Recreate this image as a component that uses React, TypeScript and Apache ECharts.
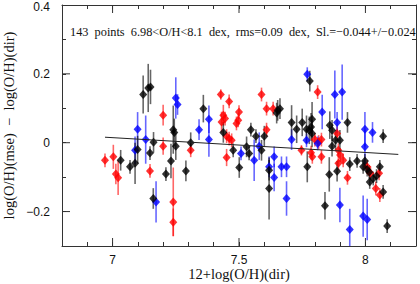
import React, { useEffect, useRef } from "react";
import * as echarts from "echarts";

// ---- Data ----
const redX = [6.97, 7.003, 7.013, 7.022, 7.2, 7.2, 7.148, 7.24, 7.24, 7.309, 7.428, 7.461, 7.438, 7.431, 7.445, 7.5, 7.497, 7.49, 7.451, 7.461, 7.471, 7.451, 7.589, 7.609, 7.635, 7.609, 7.811, 7.8, 7.826, 7.815, 7.747, 7.785, 7.79, 7.826, 7.888, 7.893, 7.9, 7.912, 7.893, 7.929, 8.007, 8.02, 8.054, 8.041, 8.057];
const redY = [-0.051, -0.041, -0.091, -0.102, 0.08, -0.01, -0.082, -0.172, -0.231, -0.022, 0.14, 0.12, 0.08, 0.06, 0.07, 0.089, 0.065, 0.056, 0.019, 0.012, 0.007, -0.043, 0.14, 0.099, 0.099, 0.038, 0.147, 0.009, 0.009, 0.002, -0.022, -0.029, -0.041, -0.041, 0.027, -0.022, -0.036, -0.051, -0.06, -0.102, -0.07, -0.089, -0.089, -0.133, -0.152];
const redErr = [0.02, 0.035, 0.03, 0.05, 0.03, 0.025, 0.02, 0.1, 0.04, 0.02, 0.015, 0.02, 0.03, 0.03, 0.02, 0.02, 0.02, 0.02, 0.02, 0.02, 0.02, 0.025, 0.02, 0.02, 0.02, 0.02, 0.02, 0.02, 0.02, 0.02, 0.015, 0.02, 0.02, 0.02, 0.02, 0.02, 0.02, 0.02, 0.02, 0.02, 0.02, 0.02, 0.02, 0.02, 0.02];

const blueX = [7.089, 7.099, 7.131, 7.172, 7.25, 7.257, 7.342, 7.381, 7.381, 7.508, 7.56, 7.58, 7.639, 7.619, 7.639, 7.668, 7.688, 7.688, 7.708, 7.767, 7.811, 7.77, 7.829, 7.879, 7.908, 7.888, 7.998, 8.028, 7.998, 7.899, 7.938, 7.991, 8.007];
const blueY = [-0.022, 0.039, 0.009, -0.172, 0.13, 0.111, 0.038, 0.068, 0.009, -0.031, -0.051, -0.01, -0.041, -0.07, -0.101, -0.07, -0.07, -0.162, 0.009, 0.007, -0.002, 0.199, 0.089, 0.14, 0.147, 0.059, 0.039, 0.03, -0.012, -0.181, -0.252, -0.213, -0.223];
const blueErr = [0.04, 0.05, 0.07, 0.06, 0.06, 0.03, 0.03, 0.04, 0.05, 0.02, 0.06, 0.04, 0.03, 0.03, 0.04, 0.03, 0.03, 0.05, 0.03, 0.02, 0.02, 0.02, 0.05, 0.07, 0.08, 0.03, 0.05, 0.03, 0.05, 0.05, 0.06, 0.06, 0.06];

const blackX = [7.032, 7.069, 7.089, 7.099, 7.121, 7.141, 7.15, 7.162, 7.148, 7.161, 7.24, 7.244, 7.25, 7.211, 7.231, 7.29, 7.309, 7.359, 7.438, 7.477, 7.501, 7.53, 7.54, 7.547, 7.567, 7.589, 7.6, 7.619, 7.619, 7.649, 7.653, 7.662, 7.708, 7.728, 7.75, 7.789, 7.767, 7.778, 7.785, 7.789, 7.78, 7.77, 7.859, 7.868, 7.882, 7.899, 7.868, 7.929, 7.857, 7.888, 7.938, 7.967, 7.998, 7.991, 8.007, 8.015, 8.017, 8.031, 8.044, 8.057, 8.07, 8.07, 7.84, 8.086];
const blackY = [-0.051, -0.07, -0.06, -0.02, 0.14, 0.159, 0.162, 0.001, -0.03, -0.162, 0.038, 0.03, -0.01, -0.091, -0.053, -0.082, 0.0, 0.099, 0.03, -0.022, -0.072, -0.012, -0.031, 0.038, 0.019, -0.022, 0.019, -0.08, -0.133, 0.086, 0.094, 0.099, 0.059, 0.039, 0.059, 0.068, 0.039, 0.036, 0.046, 0.027, 0.179, -0.07, 0.051, 0.036, 0.007, 0.007, -0.01, 0.059, -0.092, -0.083, -0.062, -0.053, -0.053, -0.07, -0.078, -0.085, -0.114, -0.104, -0.097, -0.07, -0.143, 0.019, -0.183, -0.242];
const blackErr = [0.03, 0.02, 0.06, 0.04, 0.055, 0.07, 0.05, 0.03, 0.02, 0.03, 0.07, 0.04, 0.04, 0.02, 0.05, 0.03, 0.03, 0.04, 0.03, 0.02, 0.03, 0.03, 0.02, 0.02, 0.02, 0.03, 0.03, 0.03, 0.09, 0.03, 0.03, 0.03, 0.05, 0.04, 0.04, 0.05, 0.04, 0.04, 0.04, 0.04, 0.03, 0.045, 0.04, 0.03, 0.03, 0.03, 0.03, 0.03, 0.05, 0.03, 0.02, 0.02, 0.02, 0.02, 0.02, 0.02, 0.02, 0.02, 0.02, 0.02, 0.02, 0.02, 0.04, 0.02];

const fitX = [6.97, 8.13];
const fitY = [0.016, -0.034];

const xMajorTicks = [7, 7.5, 8];
const yMajorTicks = [-0.2, 0, 0.2];
const xLabels = ["7", "7.5", "8"];
const yLabels = ["\u22120.2", "0", "0.2", "0.4"];
const yLabelValues = [-0.2, 0, 0.2, 0.4];

const annotation = "143  points  6.98<O/H<8.1  dex,  rms=0.09  dex,  Sl.=\u22120.044+/\u22120.024";

const X_MIN = 6.8, X_MAX = 8.2, Y_MIN = -0.3, Y_MAX = 0.4;
const AXIS_COLOR = "#333";
const LABEL_FONT = "'Liberation Sans', Arial, sans-serif";
const SERIF = "'Liberation Serif', 'DejaVu Serif', serif";

function errSeries(xs: number[], ys: number[], es: number[], color: string) {
  return {
    type: "custom",
    coordinateSystem: "cartesian2d",
    xAxisIndex: 0,
    yAxisIndex: 0,
    clip: true,
    silent: true,
    data: xs.map((x, i) => [x, ys[i], es[i]]),
    renderItem: (params: any, api: any) => {
      const x = api.value(0), y = api.value(1), e = api.value(2);
      const p1 = api.coord([x, y - e]);
      const p2 = api.coord([x, y + e]);
      return {
        type: "line",
        shape: { x1: p1[0], y1: p1[1], x2: p2[0], y2: p2[1] },
        style: { stroke: color, lineWidth: 1.6, opacity: 0.6 },
      };
    },
  };
}

function markerSeries(xs: number[], ys: number[], color: string) {
  return {
    type: "scatter",
    xAxisIndex: 0,
    yAxisIndex: 0,
    symbol: "diamond",
    symbolSize: [8, 9],
    itemStyle: { color },
    data: xs.map((x, i) => [x, ys[i]]),
  };
}

function near(v: number, arr: number[]) {
  for (let i = 0; i < arr.length; i++) if (Math.abs(v - arr[i]) < 1e-6) return i;
  return -1;
}

export default function App() {
  const ref = useRef<HTMLDivElement>(null);
  useEffect(() => {
    if (!ref.current) return;
    const chart = echarts.init(ref.current, undefined, { renderer: "svg" });
    const baseX = {
      type: "value",
      min: X_MIN,
      max: X_MAX,
      interval: 0.1,
      splitLine: { show: false },
      axisLine: { show: true, onZero: false, lineStyle: { color: AXIS_COLOR, width: 1 } },
      axisTick: { show: true, inside: true, length: 4, lineStyle: { color: AXIS_COLOR } },
    };
    const baseY = {
      type: "value",
      min: Y_MIN,
      max: Y_MAX,
      interval: 0.1,
      splitLine: { show: false },
      axisLine: { show: true, onZero: false, lineStyle: { color: AXIS_COLOR, width: 1 } },
      axisTick: { show: true, inside: true, length: 4, lineStyle: { color: AXIS_COLOR } },
    };
    const option: any = {
      animation: false,
      grid: { left: 62, right: 4, top: 5, bottom: 38, containLabel: false, outerBoundsMode: "none" },
      xAxis: [
        {
          ...baseX,
          position: "bottom",
          name: "12+log(O/H)(dir)",
          nameLocation: "middle",
          nameGap: 20,
          nameMoveOverlap: false,
          nameTextStyle: { fontFamily: SERIF, fontSize: 14.5, color: "#111", verticalAlign: "top" },
          axisLabel: {
            show: true,
            margin: 8,
            fontFamily: LABEL_FONT,
            fontSize: 12,
            color: "#111",
            formatter: (v: number) => {
              const i = near(v, xMajorTicks);
              return i >= 0 ? xLabels[i] : "";
            },
          },
        },
        { ...baseX, position: "top", axisLabel: { show: false } },
      ],
      yAxis: [
        {
          ...baseY,
          position: "left",
          name: "log(O/H)(mse)  \u2212  log(O/H)(dir)",
          nameLocation: "middle",
          nameGap: 46,
          nameMoveOverlap: false,
          nameTextStyle: { fontFamily: SERIF, fontSize: 14.5, color: "#111" },
          axisLabel: {
            show: true,
            margin: 12,
            showMaxLabel: true,
            fontFamily: LABEL_FONT,
            fontSize: 12,
            color: "#111",
            rich: {
              top: { fontFamily: LABEL_FONT, fontSize: 12, color: "#111", padding: [4, 0, 0, 0] },
            },
            formatter: (v: number) => {
              const i = near(v, yLabelValues);
              if (i < 0) return "";
              return Math.abs(v - Y_MAX) < 1e-6 ? "{top|" + yLabels[i] + "}" : yLabels[i];
            },
          },
        },
        { ...baseY, position: "right", axisLabel: { show: false } },
      ],
      graphic: [
        {
          type: "text",
          left: 70,
          top: 26,
          style: {
            text: annotation,
            fontFamily: SERIF,
            fontSize: 12.3,
            fill: "#111",
          },
        },
      ],
      series: [
        {
          type: "custom",
          coordinateSystem: "cartesian2d",
          xAxisIndex: 0,
          yAxisIndex: 0,
          silent: true,
          data: xMajorTicks.map((v) => [v, 0]),
          renderItem: (params: any, api: any) => {
            const cs = params.coordSys;
            const x = api.coord([api.value(0), 0])[0];
            const yb = cs.y + cs.height;
            return {
              type: "group",
              children: [
                { type: "line", shape: { x1: x, y1: yb, x2: x, y2: yb - 8 }, style: { stroke: AXIS_COLOR, lineWidth: 1 } },
                { type: "line", shape: { x1: x, y1: cs.y, x2: x, y2: cs.y + 8 }, style: { stroke: AXIS_COLOR, lineWidth: 1 } },
              ],
            };
          },
        },
        {
          type: "custom",
          coordinateSystem: "cartesian2d",
          xAxisIndex: 0,
          yAxisIndex: 0,
          silent: true,
          data: yMajorTicks.map((v) => [7, v]),
          renderItem: (params: any, api: any) => {
            const cs = params.coordSys;
            const y = api.coord([7, api.value(1)])[1];
            const xr = cs.x + cs.width;
            return {
              type: "group",
              children: [
                { type: "line", shape: { x1: cs.x, y1: y, x2: cs.x + 8, y2: y }, style: { stroke: AXIS_COLOR, lineWidth: 1 } },
                { type: "line", shape: { x1: xr, y1: y, x2: xr - 8, y2: y }, style: { stroke: AXIS_COLOR, lineWidth: 1 } },
              ],
            };
          },
        },
        errSeries(redX, redY, redErr, "#ff0000"),
        errSeries(blueX, blueY, blueErr, "#0000ff"),
        errSeries(blackX, blackY, blackErr, "#000000"),
        {
          type: "line",
          xAxisIndex: 0,
          yAxisIndex: 0,
          symbol: "none",
          silent: true,
          lineStyle: { color: "#222", width: 1 },
          data: fitX.map((x, i) => [x, fitY[i]]),
        },
        markerSeries(redX, redY, "#ff0000"),
        markerSeries(blueX, blueY, "#0000ff"),
        markerSeries(blackX, blackY, "#000000"),
      ],
    };
    chart.setOption(option);
    return () => chart.dispose();
  }, []);
  return <div ref={ref} style={{ width: 420, height: 284, position: "absolute", left: 0, top: 0 }} />;
}
